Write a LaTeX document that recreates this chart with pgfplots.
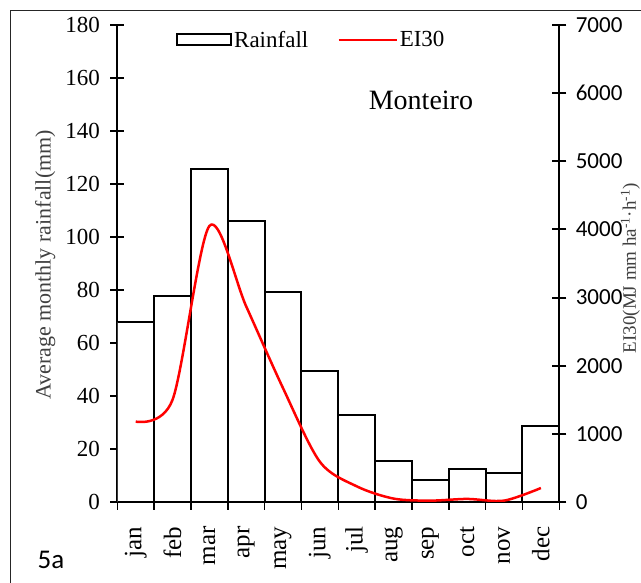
\documentclass[border=0pt]{standalone}
\usepackage{pgfplots}
\pgfplotsset{compat=1.18}
\usepackage{pgfplotstable}
\usepackage{fontspec}
\setmainfont{Liberation Serif}
\newfontfamily\carlito{Carlito}

\pgfplotstableread{
x rain ei
0 67.8 1180
1 77.6 1500
2 125.5 4050
3 105.9 2870
4 79.1 1670
5 49.5 590
6 32.8 230
7 15.4 50
8 8.2 20
9 12.6 45
10 10.9 20
11 28.8 205
}\data

\begin{document}
\begin{tikzpicture}[x=1pt,y=1pt]
\clip (-117.3,-81) rectangle (523.7,502);
\fill[white] (-117.3,-81) rectangle (523.7,502);
\draw[line width=0.9pt, black!85] (-106.6,-100) -- (-106.6,492) -- (540,492);
\begin{axis}[
  at={(0,0)}, anchor=south west,
  scale only axis, width=442pt, height=477pt,
  xmin=-0.5, xmax=11.5, ymin=0, ymax=180,
  axis lines*=left,
  axis line style={line width=2pt},
  ytick={0,20,...,180},
  tick align=center, major tick length=14pt,
  tick style={line width=2pt, black},
  yticklabel style={font=\fontsize{23}{23}\selectfont, xshift=-7pt},
  /pgf/number format/assume math mode=true,
  xtick={0,...,11},
  xticklabels={jan,feb,mar,apr,may,jun,jul,aug,sep,oct,nov,dec},
  xticklabel style={rotate=90, anchor=east, font=\fontsize{25}{25}\selectfont, xshift=-7pt},
  x tick style={draw=none},
  extra x ticks={-0.5,0.5,...,11.5},
  extra x tick labels={},
  extra x tick style={x tick style={draw=black, line width=1.5pt}, major tick length=8pt},
  ylabel={Average monthly rainfall(mm)},
  ylabel style={at={(axis description cs:-0.163,0.497)}, anchor=center, font=\fontsize{22}{22}\selectfont, text=black!75},
  ybar, bar width=1,
]
\addplot[fill=white, draw=black, line width=2pt] table[x=x,y=rain]{\data};
\node[font=\fontsize{28}{28}\selectfont] at (axis description cs:0.687,0.843) {Monteiro};
\end{axis}
\begin{axis}[
  at={(0,0)}, anchor=south west,
  scale only axis, width=442pt, height=477pt,
  xmin=-0.5, xmax=11.5, ymin=0, ymax=7000,
  axis x line=none,
  axis y line*=right,
  axis line style={line width=2pt},
  ytick={0,1000,...,7000},
  tick align=center, major tick length=14pt,
  tick style={line width=2pt, black},
  yticklabel style={font=\carlito\fontsize{23}{23}\selectfont, xshift=6pt},
  /pgf/number format/assume math mode=true,
  /pgf/number format/1000 sep={},
  ylabel={EI30(MJ mm ha\textsuperscript{-1}·h\textsuperscript{-1})},
  ylabel style={at={(axis description cs:1.161,0.49)}, anchor=center, font=\fontsize{19}{19}\selectfont, text=black!75},
  legend style={at={(axis description cs:0.1328,0.9686)}, anchor=west, draw=none, fill=none, inner sep=0pt,
    font=\fontsize{23}{23}\selectfont, /tikz/every even column/.append style={column sep=27pt}},
  legend columns=2,
]
\addlegendimage{legend image code/.code={\draw[black, line width=2pt, fill=white] (0pt,-5.5pt) rectangle (54pt,5.5pt);}}
\addlegendentry{Rainfall}
\addplot[red, line width=2.5pt, smooth, legend image code/.code={\draw[red,line width=2.5pt] (0pt,0pt) -- (58pt,0pt);}] table[x=x,y=ei]{\data};
\addlegendentry{EI30}
\end{axis}
\node[font=\carlito\fontsize{27}{27}\selectfont] at (-66.3,-58) {5a};
\end{tikzpicture}
\end{document}
